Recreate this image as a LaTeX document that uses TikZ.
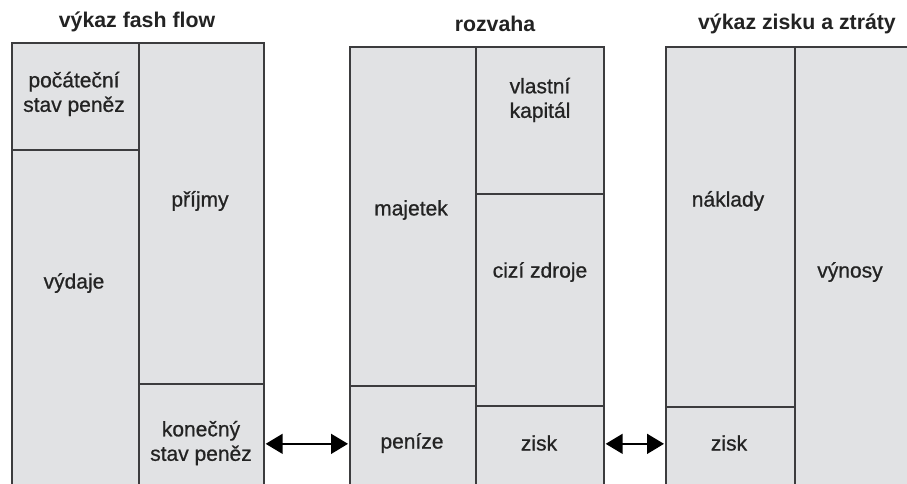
\documentclass[tikz,border=0pt]{standalone}
\usepackage{fontspec}
\setmainfont{Liberation Sans}
\newfontfamily\lblfont[FakeBold=0.8]{Liberation Sans}
\usetikzlibrary{arrows.meta}
\definecolor{cellfill}{RGB}{225,226,228}
\definecolor{cellline}{RGB}{60,60,62}
\definecolor{txt}{RGB}{35,35,35}
\tikzset{
  cell/.style={draw=cellline, fill=cellfill, line width=1.7pt, inner sep=0pt},
  lbl/.style={text=txt, font=\lblfont\fontsize{21}{24.5}\selectfont, align=center, inner sep=0pt},
  ttl/.style={text=txt, font=\fontsize{21.3}{25}\selectfont\bfseries, inner sep=0pt},
  link/.style={draw=black, line width=1.6pt, {Triangle[length=17pt,width=20pt]}-{Triangle[length=17pt,width=20pt]}, shorten <=1pt, shorten >=1pt}
}
% cell from (x1,y1) to (x2,y2), y measured downwards
\newcommand{\mkcell}[5]{%
  \node[cell, anchor=north west, minimum width=#4-#2, minimum height=#5-#3] (#1) at (#2,#3) {};}
\begin{document}
\begin{tikzpicture}[x=1pt, y=-1pt]
\useasboundingbox (0,0) rectangle (907,484);
\clip (0,0) rectangle (907,484);
\fill[white] (0,0) rectangle (907,484);

% cash flow statement
\mkcell{poc}{11}{42}{138}{149}
\mkcell{vyd}{11}{149}{138}{520}
\mkcell{pri}{138}{42}{263}{383}
\mkcell{kon}{138}{383}{263}{503}

% balance sheet
\mkcell{maj}{349}{46}{475}{385}
\mkcell{pen}{349}{385}{475}{501}
\mkcell{vk}{475}{46}{603}{193}
\mkcell{cz}{475}{193}{603}{405}
\mkcell{zb}{475}{405}{603}{520}

% profit and loss statement
\mkcell{nak}{665}{46}{794}{406}
\mkcell{zv}{665}{406}{794}{520}
\mkcell{vyn}{794}{46}{930}{520}

% headings
\node[ttl] (t1) at (137,22) {výkaz fash flow};
\node[ttl] (t2) at (495,24) {rozvaha};
\node[ttl] (t3) at (797,24) {výkaz zisku a ztráty};

% labels
\node[lbl] (l1) at (74,94) {počáteční\\stav peněz};
\node[lbl] (l2) at (200,201) {příjmy};
\node[lbl] (l3) at (74,283) {výdaje};
\node[lbl] (l4) at (201,443) {konečný\\stav peněz};
\node[lbl] (l5) at (411,210) {majetek};
\node[lbl] (l6) at (540,100) {vlastní\\kapitál};
\node[lbl] (l7) at (540,272) {cizí zdroje};
\node[lbl] (l8) at (412,443) {peníze};
\node[lbl] (l9) at (539,443) {zisk};
\node[lbl] (l10) at (728,201) {náklady};
\node[lbl] (l11) at (850,272) {výnosy};
\node[lbl] (l12) at (729,443) {zisk};

% links between the statements
\draw[link] (kon.east) -- (pen.west);
\draw[link] (zb.east |- kon.center) -- (zv.west |- kon.center);
\end{tikzpicture}
\end{document}
